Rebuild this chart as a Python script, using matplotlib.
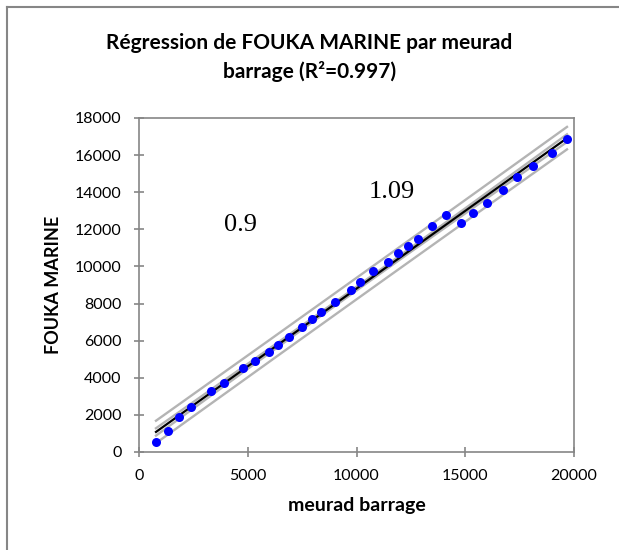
import numpy as np
import matplotlib.pyplot as plt
from matplotlib.lines import Line2D

# === 1. Data: meurad barrage (x) vs FOUKA MARINE (y) ===
meurad = [780, 1333, 1839, 2406, 3295, 3893, 4797, 5318, 5977, 6391,
          6900, 7510, 7960, 8352, 9011, 9731, 10161, 10774, 11464, 11924,
          12354, 12813, 13486, 14115, 14805, 15372, 15985, 16720, 17394,
          18100, 19003, 19678]
fouka = [540, 1130, 1890, 2410, 3290, 3740, 4510, 4900, 5390, 5780,
         6200, 6750, 7190, 7520, 8070, 8730, 9140, 9770, 10240, 10710,
         11120, 11500, 12180, 12790, 12340, 12860, 13420, 14140, 14840,
         15400, 16130, 16850]

x_ticks = [0, 5000, 10000, 15000, 20000]
y_ticks = list(range(0, 18001, 2000))
ratio_labels = ['0.9', '1.09']
ratio_pos = [(4650, 12230), (11630, 14010)]

# === 2. Linear regression with confidence / prediction bands ===
x = np.array(meurad, dtype=float)
y = np.array(fouka, dtype=float)
n = len(x)
slope, icpt = np.polyfit(x, y, 1)
resid = y - (slope * x + icpt)
s = np.sqrt(np.sum(resid ** 2) / (n - 2))
t = 2.042  # Student t, 95 %, n-2 dof
xs = np.linspace(x.min(), x.max(), 200)
ys = slope * xs + icpt
sxx = np.sum((x - x.mean()) ** 2)
se_mean = s * np.sqrt(1 / n + (xs - x.mean()) ** 2 / sxx)
se_obs = s * np.sqrt(1 + 1 / n + (xs - x.mean()) ** 2 / sxx)

# === 3. Plot ===
plt.rcParams['font.family'] = ['Lato', 'DejaVu Sans']
fig = plt.figure(figsize=(6.19, 5.5), dpi=100)
ax = fig.add_axes([0.2246, 0.1782, 0.7027, 0.6073])

band = dict(color='#b4b4b4', lw=1.7, zorder=2)
ax.plot(xs, ys + t * se_obs, **band)
ax.plot(xs, ys - t * se_obs, **band)
ax.plot(xs, ys + t * se_mean, **band)
ax.plot(xs, ys - t * se_mean, **band)
ax.plot(xs, ys, color='black', lw=1.6, zorder=3)
ax.plot(x, y, 'o', color='#0000ff', markersize=6.5, markeredgewidth=0, zorder=4)

for lab, (px, py) in zip(ratio_labels, ratio_pos):
    ax.text(px, py, lab, ha='center', va='center', fontsize=19,
            family='Liberation Serif')

# === 4. Axes styling ===
ax.set_xlim(0, 20000)
ax.set_ylim(0, 18000)
ax.set_xticks(x_ticks)
ax.set_yticks(y_ticks)
for sp in ax.spines.values():
    sp.set_color('#868686')
    sp.set_linewidth(1.2)
ax.tick_params(direction='inout', length=7, width=1.2, color='#868686',
               labelsize=11.5, labelcolor='black')
ax.tick_params(axis='x', pad=9)
ax.tick_params(axis='y', pad=9)

ax.set_xlabel('meurad barrage', fontsize=14, fontweight='bold', labelpad=10)
ax.set_ylabel('FOUKA MARINE', fontsize=13, fontweight='bold', labelpad=9)
fig.text(0.5, 0.895, 'Régression de FOUKA MARINE par meurad\nbarrage (R²=0.997)',
         ha='center', va='center', fontsize=15, fontweight='bold',
         linespacing=1.5)

# chart-area border (top and left edges)
fig.add_artist(Line2D([0.0121, 0.0121], [0, 0.988], color='#868686', lw=1.5,
                      transform=fig.transFigure))
fig.add_artist(Line2D([0.0121, 1.0], [0.988, 0.988], color='#868686', lw=1.5,
                      transform=fig.transFigure))

fig.savefig('out.png', dpi=100)
